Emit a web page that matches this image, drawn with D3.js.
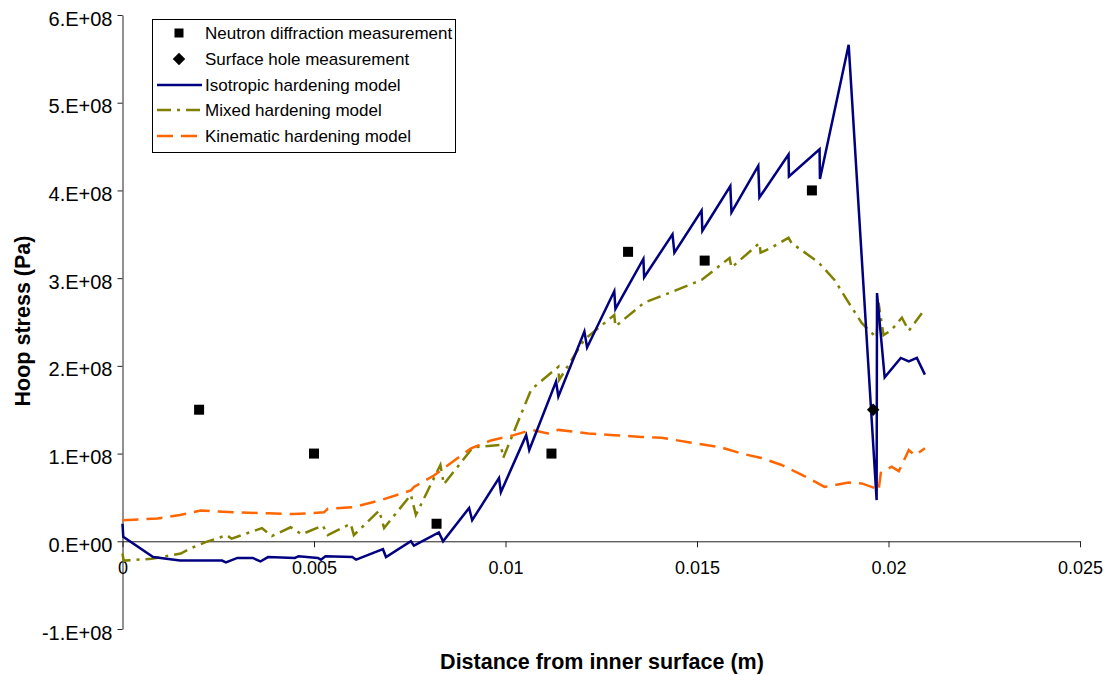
<!DOCTYPE html>
<html>
<head>
<meta charset="utf-8">
<script src="https://cdn.jsdelivr.net/npm/d3@7"></script>
<style>
  html, body { margin: 0; padding: 0; background: #fff; }
  svg { display: block; font-family: "Liberation Sans", Arial, sans-serif; }
</style>
</head>
<body>
<svg id="chart" width="1112" height="675"></svg>
<script>
// Distance from the inner surface (m) and hoop stress (Pa) for each model
const isoX = [0, 0.00002, 0.0008, 0.0015, 0.0026, 0.0027, 0.0030, 0.0034, 0.0036, 0.0038, 0.0045, 0.0046, 0.0051, 0.00518, 0.0053, 0.0060, 0.0061, 0.0068, 0.00688, 0.00753, 0.00761, 0.00826, 0.00837, 0.00905, 0.00913, 0.00983, 0.00988, 0.01054, 0.01062, 0.01132, 0.01138, 0.01206, 0.01213, 0.01284, 0.01287, 0.0136, 0.01362, 0.01436, 0.01441, 0.01512, 0.01514, 0.01587, 0.0159, 0.0166, 0.01663, 0.01739, 0.0174, 0.0182, 0.01821, 0.01896, 0.01969, 0.0197, 0.0199, 0.02032, 0.02053, 0.02074, 0.02095];
const isoY = [0.20e8, 0.05e8, -0.18e8, -0.22e8, -0.22e8, -0.24e8, -0.19e8, -0.19e8, -0.23e8, -0.18e8, -0.19e8, -0.17e8, -0.19e8, -0.21e8, -0.17e8, -0.18e8, -0.21e8, -0.09e8, -0.18e8, 0.00e8, -0.05e8, 0.10e8, 0.00e8, 0.38e8, 0.24e8, 0.72e8, 0.56e8, 1.21e8, 1.04e8, 1.82e8, 1.65e8, 2.39e8, 2.21e8, 2.85e8, 2.65e8, 3.22e8, 3.01e8, 3.50e8, 3.29e8, 3.77e8, 3.54e8, 4.05e8, 3.75e8, 4.28e8, 3.92e8, 4.41e8, 4.16e8, 4.47e8, 4.13e8, 5.66e8, 0.47e8, 2.83e8, 1.87e8, 2.09e8, 2.05e8, 2.09e8, 1.90e8];

const mixX = [0, 0.00003, 0.00076, 0.00152, 0.00178, 0.00217, 0.00272, 0.00285, 0.00364, 0.0039, 0.00439, 0.00468, 0.00523, 0.00536, 0.00596, 0.00604, 0.0067, 0.00683, 0.00753, 0.00766, 0.0083, 0.00839, 0.00915, 0.00988, 0.00994, 0.01067, 0.01138, 0.0114, 0.01206, 0.01284, 0.01287, 0.01362, 0.01433, 0.01512, 0.01585, 0.0159, 0.01663, 0.01666, 0.01695, 0.01739, 0.01747, 0.01817, 0.01859, 0.01896, 0.0193, 0.01969, 0.01974, 0.01987, 0.02008, 0.02035, 0.02053, 0.02087];
const mixY = [-0.14e8, -0.22e8, -0.20e8, -0.14e8, -0.08e8, -0.01e8, 0.07e8, 0.03e8, 0.15e8, 0.06e8, 0.16e8, 0.08e8, 0.18e8, 0.07e8, 0.20e8, 0.07e8, 0.35e8, 0.15e8, 0.53e8, 0.30e8, 0.87e8, 0.65e8, 1.07e8, 1.10e8, 0.95e8, 1.73e8, 1.99e8, 1.84e8, 2.30e8, 2.58e8, 2.45e8, 2.72e8, 2.84e8, 2.98e8, 3.23e8, 3.12e8, 3.40e8, 3.29e8, 3.35e8, 3.46e8, 3.40e8, 3.18e8, 2.98e8, 2.72e8, 2.49e8, 2.32e8, 2.72e8, 2.35e8, 2.41e8, 2.55e8, 2.40e8, 2.60e8];

const kinX = [0, 0.00092, 0.0015, 0.00204, 0.0029, 0.0038, 0.00447, 0.00526, 0.00536, 0.00604, 0.00675, 0.00753, 0.00761, 0.00813, 0.0091, 0.00962, 0.01022, 0.01067, 0.01111, 0.01138, 0.01216, 0.01284, 0.01355, 0.01407, 0.01478, 0.01564, 0.01616, 0.01668, 0.01721, 0.01791, 0.01833, 0.01896, 0.0193, 0.01969, 0.01974, 0.0198, 0.02008, 0.02027, 0.02053, 0.02069, 0.02095];
const kinY = [0.24e8, 0.26e8, 0.30e8, 0.35e8, 0.33e8, 0.32e8, 0.31e8, 0.33e8, 0.37e8, 0.39e8, 0.47e8, 0.58e8, 0.62e8, 0.75e8, 1.06e8, 1.15e8, 1.21e8, 1.27e8, 1.23e8, 1.27e8, 1.23e8, 1.21e8, 1.19e8, 1.18e8, 1.13e8, 1.07e8, 1.00e8, 0.95e8, 0.87e8, 0.72e8, 0.62e8, 0.67e8, 0.66e8, 0.60e8, 0.58e8, 0.78e8, 0.85e8, 0.80e8, 1.04e8, 0.98e8, 1.06e8];

// Measurements
const neutronX = [0.002, 0.005, 0.0082, 0.0112, 0.0132, 0.0152, 0.018];
const neutronY = [1.5e8, 1.0e8, 0.2e8, 1.0e8, 3.3e8, 3.2e8, 4.0e8];
const holeX = [0.0196];
const holeY = [1.5e8];

// Axis ticks and labels
const xTicks = [0, 0.005, 0.01, 0.015, 0.02, 0.025];
const xTickLabels = ["0", "0.005", "0.01", "0.015", "0.02", "0.025"];
const yTicks = [-1e8, 0, 1e8, 2e8, 3e8, 4e8, 5e8, 6e8];
const yTickLabels = ["-1.E+08", "0.E+00", "1.E+08", "2.E+08", "3.E+08", "4.E+08", "5.E+08", "6.E+08"];
const xTitle = "Distance from inner surface (m)";
const yTitle = "Hoop stress (Pa)";
const legendLabels = ["Neutron diffraction measurement", "Surface hole measurement", "Isotropic hardening model", "Mixed hardening model", "Kinematic hardening model"];

const svg = d3.select("#chart");
const x = d3.scaleLinear().domain([0, 0.025]).range([122.5, 1080]);
const y = d3.scaleLinear().domain([-1e8, 6e8]).range([629, 15]);

// Y axis on the left, ticks pointing outward
const yAxis = d3.axisLeft(y).tickValues(yTicks).tickSize(5).tickSizeOuter(0)
  .tickFormat((d, i) => yTickLabels[i]);
const gy = svg.append("g").attr("transform", `translate(${x(0)},0)`).call(yAxis);
gy.select(".domain").attr("stroke", "#222");
gy.selectAll(".tick line").attr("stroke", "#222");
gy.selectAll(".tick text").attr("font-size", 20).attr("fill", "#000")
  .attr("x", -10).attr("dy", "0.5em").attr("font-family", "Liberation Sans, Arial, sans-serif");

// X axis through zero, ticks pointing down
const xAxis = d3.axisBottom(x).tickValues(xTicks).tickSize(6).tickSizeOuter(0)
  .tickFormat((d, i) => xTickLabels[i]);
const gx = svg.append("g").attr("transform", `translate(0,${y(0)})`).call(xAxis);
gx.select(".domain").attr("stroke", "#222");
gx.selectAll(".tick line").attr("stroke", "#222");
gx.selectAll(".tick text").attr("font-size", 18).attr("fill", "#000")
  .attr("y", 20).attr("dy", "0.71em").attr("font-family", "Liberation Sans, Arial, sans-serif");

// Model curves
const line = d3.line().x(d => x(d[0])).y(d => y(d[1]));
const series = [
  { xs: mixX, ys: mixY, color: "#808000", dash: "14,6,3,6" },
  { xs: kinX, ys: kinY, color: "#FF6600", dash: "16,8" },
  { xs: isoX, ys: isoY, color: "#000080", dash: null }
];
series.forEach(s => {
  const pts = s.xs.map((v, i) => [v, s.ys[i]]);
  svg.append("path").datum(pts).attr("d", line)
    .attr("fill", "none").attr("stroke", s.color).attr("stroke-width", 2.5)
    .attr("stroke-linejoin", "miter").attr("stroke-dasharray", s.dash);
});

// Measurement markers
const neutronPts = neutronX.map((v, i) => [v, neutronY[i]]);
svg.append("g").selectAll("rect").data(neutronPts).join("rect")
  .attr("x", d => x(d[0]) - 5).attr("y", d => y(d[1]) - 5)
  .attr("width", 10).attr("height", 10).attr("fill", "#000");
const holePts = holeX.map((v, i) => [v, holeY[i]]);
const diamond = d3.symbol().type(d3.symbolDiamond2).size(100);
svg.append("g").selectAll("path").data(holePts).join("path")
  .attr("d", diamond).attr("transform", d => `translate(${x(d[0])},${y(d[1])})`)
  .attr("fill", "#000");

// Axis titles
svg.append("text").attr("x", 602).attr("y", 669).attr("text-anchor", "middle")
  .attr("font-size", 21.5).attr("font-weight", "bold").text(xTitle);
svg.append("text").attr("transform", "translate(30,321) rotate(-90)").attr("text-anchor", "middle")
  .attr("font-size", 21.5).attr("font-weight", "bold").text(yTitle);

// Legend
const lg = svg.append("g");
lg.append("rect").attr("x", 152.5).attr("y", 19.5).attr("width", 303).attr("height", 133)
  .attr("fill", "#fff").attr("stroke", "#000").attr("stroke-width", 1);
const rowY = [33, 59, 85, 110, 136];
legendLabels.forEach((t, i) => {
  lg.append("text").attr("x", 205).attr("y", rowY[i]).attr("dy", "0.36em")
    .attr("font-size", 17).text(t);
});
lg.append("rect").attr("x", 174.5).attr("y", rowY[0] - 4.5).attr("width", 9).attr("height", 9).attr("fill", "#000");
lg.append("path").attr("d", diamond).attr("transform", `translate(179,${rowY[1]})`).attr("fill", "#000");
[["#000080", null], ["#808000", "14,6,3,6"], ["#FF6600", "16,8"]].forEach((c, k) => {
  lg.append("line").attr("x1", 157).attr("x2", 202).attr("y1", rowY[k + 2]).attr("y2", rowY[k + 2])
    .attr("stroke", c[0]).attr("stroke-width", 2.5).attr("stroke-dasharray", c[1]);
});
</script>
</body>
</html>
